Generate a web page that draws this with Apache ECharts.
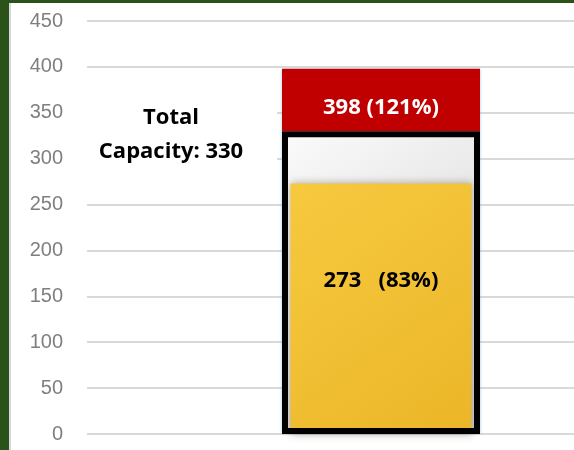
<!DOCTYPE html>
<html>
<head>
<meta charset="utf-8">
<script src="https://cdn.jsdelivr.net/npm/echarts@6/dist/echarts.min.js"></script>
<style>
  html, body { margin: 0; padding: 0; background: #2b5219; }
  #frame { position: absolute; left: 9px; top: 3px; width: 565px; height: 447px; background: #d9d9d9; }
  #chart { position: absolute; left: 2px; top: 0; width: 563px; height: 447px; background: #fff; }
</style>
</head>
<body>
<div id="frame"><div id="chart"></div></div>
<script>
// data
const categories = ['Capacity']
const capacityValues = [330]
const demandValues = [398]
const demandPercent = [121]
const usedValues = [273]
const usedPercent = [83]
const yMin = 0
const yMax = 450
const yStep = 50

const chart = echarts.init(document.getElementById('chart'))

const labelFont = '"Open Sans", "Liberation Sans", sans-serif'

const option = {
  animation: false,
  grid: {
    left: 76,
    right: -101,
    top: 18,
    bottom: 16,
    outerBoundsMode: 'none'
  },
  xAxis: [
    {
      type: 'category',
      data: categories,
      axisLine: { show: false },
      axisTick: { show: false },
      axisLabel: { show: false }
    },
    {
      type: 'category',
      data: categories,
      show: false
    }
  ],
  yAxis: {
    type: 'value',
    min: yMin,
    max: yMax,
    interval: yStep,
    axisLine: { show: false },
    axisTick: { show: false },
    axisLabel: {
      color: '#7f7f7f',
      fontSize: 20,
      fontFamily: '"Liberation Sans", Arial, sans-serif',
      margin: 24
    },
    splitLine: {
      lineStyle: { color: '#d9d9d9', width: 2 }
    }
  },
  graphic: [
    {
      // white box behind the capacity note, hides the gridlines there
      type: 'rect',
      shape: { x: 74, y: 66, width: 192, height: 131 },
      style: { fill: '#fff' },
      z: 5
    },
    {
      type: 'text',
      x: 160,
      y: 115,
      z: 6,
      style: {
        text: 'Total',
        align: 'center',
        verticalAlign: 'middle',
        font: 'bold 22px ' + labelFont,
        fill: '#000'
      }
    },
    {
      type: 'text',
      x: 160,
      y: 149,
      z: 6,
      style: {
        text: 'Capacity: ' + capacityValues[0],
        align: 'center',
        verticalAlign: 'middle',
        font: 'bold 22px ' + labelFont,
        fill: '#000'
      }
    }
  ],
  series: [
    {
      name: 'Demand',
      type: 'bar',
      xAxisIndex: 0,
      barWidth: 198,
      barGap: '-100%',
      data: demandValues,
      itemStyle: {
        color: '#c00000',
        shadowBlur: 3,
        shadowColor: 'rgba(120,160,200,0.6)'
      },
      label: {
        show: true,
        position: 'insideTop',
        distance: 28,
        color: '#fff',
        fontSize: 22,
        fontWeight: 'bold',
        fontFamily: labelFont,
        formatter: p => demandValues[p.dataIndex] + ' (' + demandPercent[p.dataIndex] + '%)'
      }
    },
    {
      name: 'Capacity',
      type: 'bar',
      xAxisIndex: 0,
      barWidth: 198,
      barGap: '-100%',
      data: capacityValues,
      itemStyle: {
        color: new echarts.graphic.LinearGradient(0, 0, 1, 1, [
          { offset: 0, color: '#fbfbfb' },
          { offset: 0.5, color: '#e4e4e4' },
          { offset: 1, color: '#d0d0d0' }
        ])
      }
    },
    {
      name: 'Used',
      type: 'bar',
      xAxisIndex: 1,
      barWidth: 181,
      data: usedValues,
      itemStyle: {
        color: new echarts.graphic.LinearGradient(0, 0, 1, 1, [
          { offset: 0, color: '#f7c93f' },
          { offset: 1, color: '#ebb628' }
        ]),
        shadowBlur: 8,
        shadowColor: 'rgba(90,80,60,0.45)'
      },
      label: {
        show: true,
        position: 'insideTop',
        distance: 86,
        color: '#000',
        fontSize: 22,
        fontWeight: 'bold',
        fontFamily: labelFont,
        formatter: p => usedValues[p.dataIndex] + '   (' + usedPercent[p.dataIndex] + '%)'
      }
    },
    {
      // black outline of the capacity box, drawn over the yellow fill
      name: 'Capacity outline',
      type: 'bar',
      xAxisIndex: 0,
      barWidth: 198,
      barGap: '-100%',
      data: capacityValues,
      itemStyle: {
        color: 'rgba(0,0,0,0)',
        borderColor: '#000',
        borderWidth: 6
      }
    }
  ]
}

chart.setOption(option)
window.addEventListener('resize', () => chart.resize())
</script>
</body>
</html>
